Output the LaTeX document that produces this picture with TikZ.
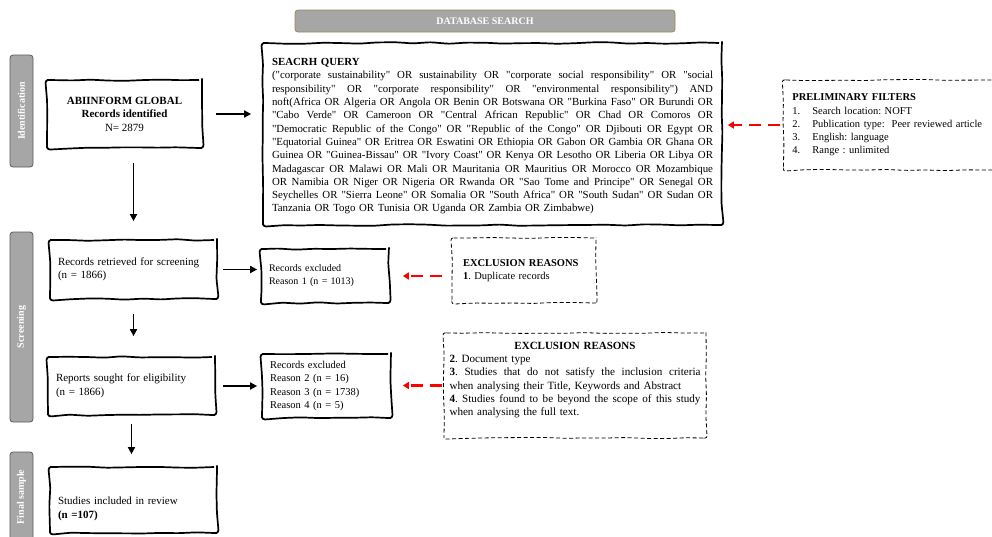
\documentclass[tikz,border=0pt]{standalone}
\usepackage{fontspec}
\setmainfont{Liberation Serif}[Ligatures=TeXOff]
\usetikzlibrary{positioning,arrows.meta,decorations.pathmorphing}

\definecolor{bargray}{HTML}{A6A6A6}
\definecolor{barline}{HTML}{5A5A5A}
\definecolor{dbline}{HTML}{9A8A55}

\newcommand{\spreadline}[2][441pt]{\makebox[#1][s]{\spaceskip=0.25em plus 2em minus 0.05em\relax #2}}
\frenchspacing

\begin{document}
\pgfmathsetseed{7}
\begin{tikzpicture}[x=1pt,y=-1pt,
    sketch/.style={draw, line width=1.7pt, decorate,
      decoration={random steps,segment length=18pt,amplitude=0.8pt},
      rounded corners=3pt, inner ysep=0pt, inner xsep=8pt, align=left,
      font=\fontsize{11}{13.5}\selectfont},
    dashbox/.style={draw, line width=0.8pt, dash pattern=on 4pt off 2.5pt, decorate,
      decoration={random steps,segment length=20pt,amplitude=0.6pt},
      rounded corners=2pt, inner ysep=0pt, inner xsep=9pt, align=left,
      font=\fontsize{10.5}{13.3}\selectfont},
    sidebar/.style={draw=barline, fill=bargray, line width=0.8pt, rounded corners=3pt,
      rotate=90, minimum height=23pt, inner sep=0pt, text=white,
      font=\fontsize{10}{11}\selectfont\bfseries},
    flow/.style={-{Triangle[length=7pt,width=7pt]}, line width=1.6pt},
    skip/.style={red, line width=2.2pt, dash pattern=on 12pt off 7pt,
      -{Triangle[length=6pt,width=7pt]}}]
\useasboundingbox (0,0) rectangle (992,536);

% header and phase bars
\node[draw=dbline, fill=bargray, line width=0.8pt, rounded corners=3pt,
  minimum width=380pt, minimum height=22pt, text=white,
  font=\fontsize{10}{11}\selectfont\bfseries] (dbsearch) at (485,21) {DATABASE SEARCH};
\node[sidebar, minimum width=112pt] (ident) at (21.5,111) {Identification};
\node[sidebar, minimum width=190pt] (screen) at (21.5,327) {Screening};
\node[sidebar, minimum width=90pt] (final) at (21.5,497) {Final sample};

% identification
\node[sketch, minimum width=155pt, minimum height=68pt, align=center] (abi) at (124.5,114)
  {\textbf{ABIINFORM GLOBAL}\\\textbf{Records identified}\\N= 2879};
\node[sketch, minimum width=459pt, minimum height=182pt, inner xsep=9pt, text width=441pt,
  font=\fontsize{10.85}{13.3}\selectfont] (query) at (492.5,134)
  {\rule{0pt}{12pt}\textbf{SEACRH QUERY}\\
   \spreadline{("corporate sustainability" OR sustainability OR "corporate social responsibility" OR "social}\\
   \spreadline{responsibility" OR "corporate responsibility" OR "environmental responsibility") AND}\\
   \spreadline{noft(Africa OR Algeria OR Angola OR Benin OR Botswana OR "Burkina Faso" OR Burundi OR}\\
   \spreadline{"Cabo Verde" OR Cameroon OR "Central African Republic" OR Chad OR Comoros OR}\\
   \spreadline{"Democratic Republic of the Congo" OR "Republic of the Congo" OR Djibouti OR Egypt OR}\\
   \spreadline{"Equatorial Guinea" OR Eritrea OR Eswatini OR Ethiopia OR Gabon OR Gambia OR Ghana OR}\\
   \spreadline{Guinea OR "Guinea-Bissau" OR "Ivory Coast" OR Kenya OR Lesotho OR Liberia OR Libya OR}\\
   \spreadline{Madagascar OR Malawi OR Mali OR Mauritania OR Mauritius OR Morocco OR Mozambique}\\
   \spreadline{OR Namibia OR Niger OR Nigeria OR Rwanda OR "Sao Tome and Principe" OR Senegal OR}\\
   \spreadline{Seychelles OR "Sierra Leone" OR Somalia OR "South Africa" OR "South Sudan" OR Sudan OR}\\
   Tanzania OR Togo OR Tunisia OR Uganda OR Zambia OR Zimbabwe)};
\node[dashbox, anchor=west, minimum height=90pt, text width=205pt] (filters) at (783,125)
  {\textbf{PRELIMINARY FILTERS}\\
   \makebox[20pt][l]{1.}Search location: NOFT\\
   \makebox[20pt][l]{2.}Publication type:\ \ Peer reviewed article\\
   \makebox[20pt][l]{3.}English: language\\
   \makebox[20pt][l]{4.}Range : unlimited};

% screening
\node[sketch, minimum width=167pt, minimum height=59pt, text width=151pt] (retrieved) at (133.5,269.5)
  {Records retrieved for screening\\(n = 1866)};
\node[sketch, minimum width=128pt, minimum height=54pt, text width=112pt,
  font=\fontsize{10}{13}\selectfont] (excl1) at (325,276)
  {Records excluded\\Reason 1 (n = 1013)};
\node[dashbox, minimum width=144pt, minimum height=65pt, inner xsep=11pt, text width=122pt] (reasons1) at (524,270.5)
  {\textbf{EXCLUSION REASONS}\\\textbf{1}. Duplicate records};
\node[sketch, minimum width=167pt, minimum height=58pt, text width=151pt] (sought) at (131.5,386)
  {Reports sought for eligibility\\(n = 1866)};
\node[sketch, minimum width=129pt, minimum height=64pt, text width=113pt,
  font=\fontsize{10.5}{13.4}\selectfont] (excl2) at (326.5,386)
  {Records excluded\\Reason 2 (n = 16)\\Reason 3 (n = 1738)\\Reason 4 (n = 5)};
\node[dashbox, minimum width=262pt, minimum height=105pt, inner xsep=5.5pt, text width=251pt,
  font=\fontsize{11.1}{13.3}\selectfont] (reasons2) at (575,385.5)
  {\makebox[251pt]{\fontsize{11}{13.3}\selectfont\textbf{EXCLUSION REASONS}}\\
   \textbf{2}. Document type\\
   \spreadline[251pt]{\textbf{3}. Studies that do not satisfy the inclusion criteria}\\
   when analysing their Title, Keywords and Abstract\\
   \spreadline[251pt]{\textbf{4}. Studies found to be beyond the scope of this study}\\
   when analysing the full text.\\ \mbox{}};

% final sample
\node[sketch, minimum width=167pt, minimum height=66pt, text width=151pt] (included) at (133.5,500)
  {\rule{0pt}{25pt}Studies included in review\\\textbf{(n =107)}};

% connectors
\draw[flow, shorten <=13pt, shorten >=11pt] (abi.east) -- (abi.east -| query.west);
\draw[flow, shorten <=14pt, shorten >=18pt] (retrieved.north |- abi.south) -- (retrieved.north);
\draw[flow, shorten <=5pt, shorten >=3pt] (retrieved.east) -- (retrieved.east -| excl1.west);
\draw[flow, shorten <=14pt, shorten >=20pt] (retrieved.south) -- (retrieved.south |- sought.north);
\draw[flow, shorten <=7pt, shorten >=4pt] (sought.east) -- (sought.east -| excl2.west);
\draw[flow, shorten <=8pt, shorten >=12pt] (sought.south) -- (sought.south |- included.north);

\draw[skip, shorten <=3pt, shorten >=5pt] (filters.west) -- (filters.west -| query.east);
\draw[skip, shorten <=10pt, shorten >=13pt] (reasons1.west |- excl1.east) -- (excl1.east);
\draw[skip, shorten <=2pt, shorten >=11pt] (reasons2.west) -- (reasons2.west -| excl2.east);
\end{tikzpicture}
\end{document}
